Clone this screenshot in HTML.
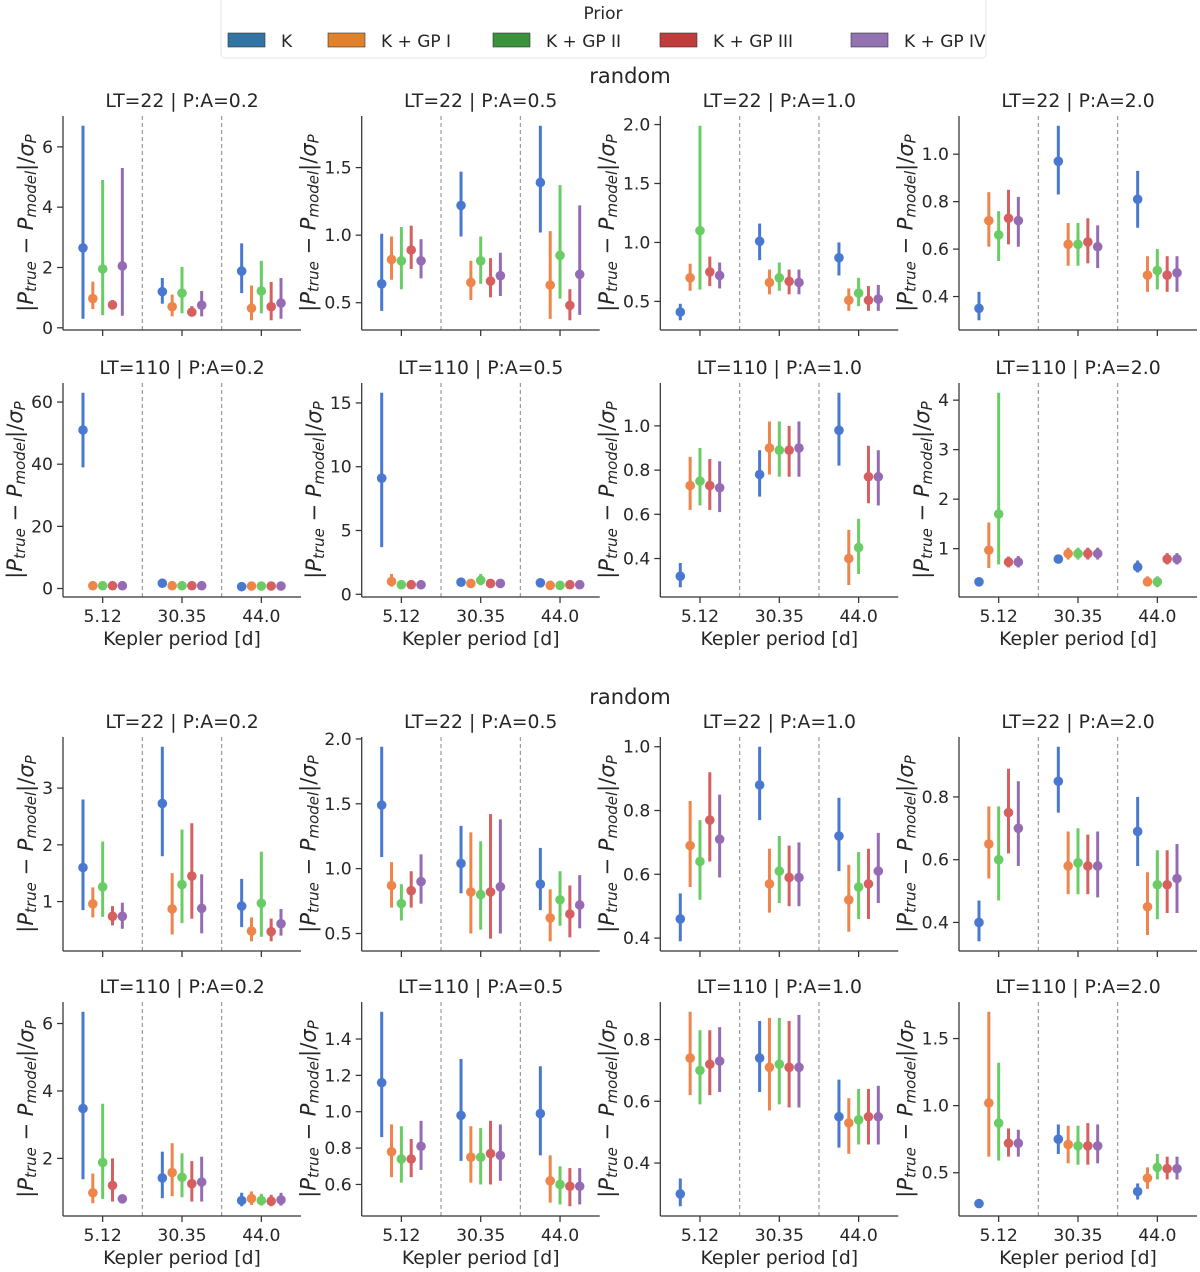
<!DOCTYPE html>
<html><head><meta charset="utf-8">
<style>
html,body{margin:0;padding:0;background:#fff;}
svg{display:block;font-family:"DejaVu Sans","Liberation Sans",sans-serif;}
</style></head>
<body>
<svg id="fig" width="1200" height="1272" viewBox="0 0 1200 1272" xmlns="http://www.w3.org/2000/svg"></svg>
<script>
// ---- data ----
const categories = ["5.12", "30.35", "44.0"];
const seriesNames = ["K", "K + GP I", "K + GP II", "K + GP III", "K + GP IV"];
const panelTitles = ["LT=22 | P:A=0.2","LT=22 | P:A=0.5","LT=22 | P:A=1.0","LT=22 | P:A=2.0",
  "LT=110 | P:A=0.2","LT=110 | P:A=0.5","LT=110 | P:A=1.0","LT=110 | P:A=2.0",
  "LT=22 | P:A=0.2","LT=22 | P:A=0.5","LT=22 | P:A=1.0","LT=22 | P:A=2.0",
  "LT=110 | P:A=0.2","LT=110 | P:A=0.5","LT=110 | P:A=1.0","LT=110 | P:A=2.0"];
const panelTicks = [[0,2,4,6],[0.5,1.0,1.5],[0.5,1.0,1.5,2.0],[0.4,0.6,0.8,1.0],
  [0,20,40,60],[0,5,10,15],[0.4,0.6,0.8,1.0],[1,2,3,4],
  [1,2,3],[0.5,1.0,1.5,2.0],[0.4,0.6,0.8,1.0],[0.4,0.6,0.8],
  [2,4,6],[0.6,0.8,1.0,1.2,1.4],[0.4,0.6,0.8],[0.5,1.0,1.5]];
const tickLabels = [["0","2","4","6"],["0.5","1.0","1.5"],["0.5","1.0","1.5","2.0"],["0.4","0.6","0.8","1.0"],
  ["0","20","40","60"],["0","5","10","15"],["0.4","0.6","0.8","1.0"],["1","2","3","4"],
  ["1","2","3"],["0.5","1.0","1.5","2.0"],["0.4","0.6","0.8","1.0"],["0.4","0.6","0.8"],
  ["2","4","6"],["0.6","0.8","1.0","1.2","1.4"],["0.4","0.6","0.8"],["0.5","1.0","1.5"]];
// per panel: [series][category]
const means = [
 [[2.65,1.2,1.88],[0.97,0.7,0.65],[1.95,1.15,1.22],[0.76,0.52,0.7],[2.05,0.75,0.82]],
 [[0.64,1.22,1.39],[0.82,0.65,0.63],[0.81,0.81,0.85],[0.89,0.66,0.48],[0.81,0.7,0.71]],
 [[0.41,1.01,0.87],[0.7,0.66,0.51],[1.1,0.7,0.57],[0.75,0.67,0.51],[0.72,0.66,0.52]],
 [[0.35,0.97,0.81],[0.72,0.62,0.49],[0.66,0.62,0.51],[0.73,0.63,0.49],[0.72,0.61,0.5]],
 [[51,1.7,0.6],[0.9,0.9,0.8],[0.9,0.9,0.8],[0.9,0.9,0.8],[0.9,0.9,0.8]],
 [[9.1,0.95,0.9],[1.0,0.85,0.7],[0.75,1.1,0.7],[0.75,0.85,0.75],[0.75,0.85,0.75]],
 [[0.32,0.78,0.98],[0.73,0.9,0.4],[0.75,0.89,0.45],[0.73,0.89,0.77],[0.72,0.9,0.77]],
 [[0.33,0.79,0.63],[0.97,0.9,0.33],[1.7,0.9,0.33],[0.73,0.9,0.79],[0.73,0.9,0.79]],
 [[1.6,2.73,0.92],[0.96,0.87,0.48],[1.26,1.3,0.97],[0.74,1.45,0.47],[0.74,0.88,0.61]],
 [[1.49,1.04,0.88],[0.87,0.82,0.62],[0.73,0.8,0.76],[0.83,0.82,0.65],[0.9,0.86,0.72]],
 [[0.46,0.88,0.72],[0.69,0.57,0.52],[0.64,0.61,0.56],[0.77,0.59,0.57],[0.71,0.59,0.61]],
 [[0.4,0.85,0.69],[0.65,0.58,0.45],[0.6,0.59,0.52],[0.75,0.58,0.52],[0.7,0.58,0.54]],
 [[3.48,1.42,0.75],[0.98,1.58,0.81],[1.88,1.44,0.75],[1.2,1.25,0.73],[0.8,1.3,0.77]],
 [[1.16,0.98,0.99],[0.78,0.75,0.62],[0.74,0.75,0.6],[0.74,0.77,0.59],[0.81,0.76,0.59]],
 [[0.3,0.74,0.55],[0.74,0.71,0.53],[0.7,0.72,0.54],[0.72,0.71,0.55],[0.73,0.71,0.55]],
 [[0.27,0.75,0.36],[1.02,0.71,0.46],[0.87,0.7,0.54],[0.72,0.7,0.53],[0.72,0.7,0.53]]
];
const lows = [
 [[0.3,0.8,1.15],[0.62,0.38,0.25],[0.42,0.48,0.48],[0.63,0.38,0.25],[0.4,0.38,0.3]],
 [[0.44,0.99,1.02],[0.67,0.52,0.38],[0.6,0.64,0.53],[0.75,0.54,0.37],[0.68,0.55,0.41]],
 [[0.34,0.85,0.72],[0.59,0.56,0.42],[0.6,0.59,0.46],[0.63,0.56,0.42],[0.61,0.56,0.42]],
 [[0.3,0.83,0.69],[0.61,0.53,0.42],[0.55,0.53,0.43],[0.62,0.54,0.42],[0.61,0.52,0.42]],
 [[39,1.4,0.4],[0.6,0.6,0.5],[0.6,0.6,0.5],[0.6,0.6,0.5],[0.6,0.6,0.5]],
 [[3.7,0.8,0.75],[0.6,0.7,0.55],[0.6,0.7,0.55],[0.6,0.7,0.6],[0.6,0.7,0.6]],
 [[0.27,0.68,0.82],[0.62,0.78,0.28],[0.64,0.77,0.33],[0.62,0.77,0.65],[0.61,0.77,0.64]],
 [[0.28,0.7,0.52],[0.61,0.78,0.25],[0.68,0.78,0.22],[0.62,0.78,0.68],[0.62,0.78,0.68]],
 [[0.85,1.8,0.55],[0.72,0.42,0.3],[0.73,0.62,0.38],[0.58,0.7,0.3],[0.52,0.44,0.4]],
 [[1.09,0.81,0.68],[0.7,0.5,0.44],[0.6,0.53,0.56],[0.7,0.46,0.47],[0.73,0.5,0.54]],
 [[0.39,0.77,0.61],[0.56,0.48,0.42],[0.52,0.51,0.46],[0.64,0.5,0.46],[0.59,0.5,0.51]],
 [[0.34,0.75,0.58],[0.54,0.49,0.36],[0.47,0.49,0.41],[0.62,0.49,0.43],[0.58,0.48,0.43]],
 [[1.38,0.82,0.58],[0.67,0.88,0.62],[0.8,0.85,0.6],[0.72,0.72,0.58],[0.7,0.72,0.6]],
 [[0.86,0.73,0.76],[0.64,0.61,0.5],[0.61,0.6,0.49],[0.64,0.6,0.48],[0.68,0.62,0.49]],
 [[0.26,0.63,0.45],[0.62,0.57,0.43],[0.59,0.59,0.46],[0.62,0.58,0.46],[0.63,0.58,0.46]],
 [[0.25,0.64,0.3],[0.62,0.57,0.38],[0.59,0.56,0.45],[0.62,0.56,0.45],[0.62,0.57,0.45]]
];
const highs = [
 [[6.7,1.65,2.8],[1.53,1.1,1.4],[4.9,2.02,2.22],[0.92,0.72,1.52],[5.3,1.22,1.65]],
 [[1.01,1.47,1.81],[0.99,0.81,1.03],[1.06,0.99,1.37],[1.07,0.83,0.6],[0.97,0.87,1.22]],
 [[0.48,1.16,1.0],[0.82,0.77,0.61],[1.99,0.83,0.7],[0.88,0.77,0.63],[0.83,0.77,0.64]],
 [[0.42,1.12,0.93],[0.84,0.71,0.57],[0.76,0.71,0.6],[0.85,0.73,0.57],[0.82,0.7,0.57]],
 [[63,2.0,0.8],[1.2,1.2,1.1],[1.2,1.2,1.1],[1.2,1.2,1.1],[1.2,1.2,1.1]],
 [[15.8,1.1,1.05],[1.6,1.0,0.85],[0.9,1.6,0.85],[0.9,1.0,0.9],[0.9,1.0,0.9]],
 [[0.38,0.89,1.15],[0.86,1.02,0.53],[0.9,1.02,0.58],[0.85,1.0,0.91],[0.84,1.02,0.89]],
 [[0.38,0.88,0.76],[1.53,1.02,0.44],[4.15,1.02,0.44],[0.84,1.02,0.91],[0.85,1.02,0.91]],
 [[2.8,3.73,1.4],[1.25,1.5,0.72],[2.06,2.27,1.88],[0.92,2.38,0.7],[0.98,1.48,0.87]],
 [[1.94,1.33,1.16],[1.05,1.28,0.84],[0.88,1.21,0.98],[0.98,1.42,0.87],[1.11,1.38,0.95]],
 [[0.54,1.0,0.84],[0.83,0.68,0.63],[0.77,0.72,0.67],[0.92,0.69,0.68],[0.85,0.7,0.73]],
 [[0.47,0.96,0.8],[0.77,0.69,0.56],[0.77,0.7,0.63],[0.89,0.68,0.63],[0.85,0.69,0.65]],
 [[6.35,2.2,0.98],[1.55,2.45,1.02],[3.62,2.15,0.95],[2.0,1.92,0.92],[0.92,2.05,0.98]],
 [[1.55,1.29,1.25],[0.93,0.92,0.76],[0.92,0.91,0.7],[0.85,0.95,0.69],[0.95,0.93,0.69]],
 [[0.35,0.86,0.67],[0.89,0.87,0.61],[0.83,0.87,0.64],[0.83,0.86,0.64],[0.84,0.88,0.65]],
 [[0.3,0.86,0.42],[1.7,0.85,0.54],[1.32,0.85,0.64],[0.83,0.87,0.62],[0.82,0.86,0.62]]
];
// ---- styling / layout ----
const pointColors = ["#4878d0","#ee854a","#6acc64","#d65f5f","#956cb4"];
const legendColors = ["#3274a1","#e1812c","#3a923a","#c03d3e","#9372b2"];
const axLefts = [63, 361.7, 660.3, 959];
const axTops = [116, 383, 737, 1002];
const AXW = 238, AXH = 214;
const NS = "http://www.w3.org/2000/svg";
const svg = document.getElementById('fig');
function mk(tag, attrs, parent, text){
  const e = document.createElementNS(NS, tag);
  for (const k in attrs) e.setAttribute(k, attrs[k]);
  if (text !== undefined) e.textContent = text;
  (parent || svg).appendChild(e);
  return e;
}
const TXT = "#262626";

// legend
const lg = mk('g', {});


mk('rect', {x:221, y:-4, width:765, height:62, rx:4, fill:'#fff', stroke:'#e6e6e6'}, lg);
const lt = mk('text', {x:603, y:19, 'text-anchor':'middle', 'font-size':17, fill:TXT}, lg, 'Prior');


const patchX = [228, 328, 493, 660, 851];
seriesNames.forEach((n, i) => {
  const g = mk('g', {}, lg);
  
  
  mk('rect', {x:patchX[i], y:33, width:37, height:14, fill:legendColors[i], stroke:'#333', 'stroke-width':0.6}, g);
  mk('text', {x:patchX[i] + 53, y:47, 'font-size':17, fill:TXT}, g, n);
});

// section titles
[[83, 'random-title-top'], [704, 'random-title-bottom']].forEach(([y, nm]) => {
  const t = mk('text', {x:630, y:y, 'text-anchor':'middle', 'font-size':21, fill:TXT}, svg, 'random');
  
  
});

function textW(s){ let w = 0; for (const c of s) w += (c === '.' ? 0.318 : 0.636) * 17.2; return w; }

for (let p = 0; p < 16; p++) {
  const row = Math.floor(p / 4), col = p % 4;
  const L = axLefts[col], T = axTops[row], B = T + AXH;
  const g = mk('g', {});
  
  
  let mn = Infinity, mx = -Infinity;
  lows[p].forEach(r => r.forEach(v => mn = Math.min(mn, v)));
  highs[p].forEach(r => r.forEach(v => mx = Math.max(mx, v)));
  const pad = (mx - mn) * 0.05; const y0 = mn - pad, y1 = mx + pad;
  const yS = v => B - (v - y0) / (y1 - y0) * AXH;
  const cw = AXW / 3;
  const xC = c => L + cw * (c + 0.5);
  const xS = (c, s) => xC(c) + (s - 2) * cw * 0.124;
  const tt = mk('text', {x:L + AXW / 2, y:T - 9, 'text-anchor':'middle', 'font-size':18.8, fill:TXT}, g, panelTitles[p]);
  
  
  [1, 2].forEach(k => {
    const sl = mk('line', {x1:L + cw * k, x2:L + cw * k, y1:T, y2:B, stroke:'#9a9a9a', 'stroke-width':1.2, 'stroke-dasharray':'4,3'}, g);
    
    
  });
  let maxW = 0;
  panelTicks[p].forEach((v, i) => {
    const y = yS(v);
    mk('line', {x1:L - 6, x2:L, y1:y, y2:y, stroke:'#333', 'stroke-width':1.25}, g);
    const tl = mk('text', {x:L - 10, y:y + 6, 'text-anchor':'end', 'font-size':17.2, fill:TXT}, g, tickLabels[p][i]);
    
    
    maxW = Math.max(maxW, textW(tickLabels[p][i]));
  });
  categories.forEach((c, i) => {
    mk('line', {x1:xC(i), x2:xC(i), y1:B, y2:B + 6, stroke:'#333', 'stroke-width':1.25}, g);
    if (row === 1 || row === 3) {
      const xl = mk('text', {x:xC(i), y:B + 25, 'text-anchor':'middle', 'font-size':17.2, fill:TXT}, g, c);
      
      
    }
  });
  if (row === 1 || row === 3) {
    const xt = mk('text', {x:L + AXW / 2, y:B + 48, 'text-anchor':'middle', 'font-size':18.8, fill:TXT}, g, 'Kepler period [d]');
    
    
  }
  const lx = L - 10 - maxW - 16, ly = T + AXH / 2;
  const yl = mk('text', {x:lx, y:ly, 'text-anchor':'middle', 'font-size':21, fill:TXT, transform:`rotate(-90 ${lx} ${ly})`, 'dominant-baseline':'central'}, g);
  
  
  const parts = [['|', 0, 0], ['P', 1, 0], ['true', 1, 1], [' − ', 0, 0], ['P', 1, 0], ['model', 1, 1], ['|/', 0, 0], ['σ', 1, 0], ['P', 1, 1]];
  let prevSub = false;
  parts.forEach(([s, it, sub]) => {
    const a = {};
    if (it) a['font-style'] = 'italic';
    if (sub) { a['font-size'] = 15; a['dy'] = prevSub ? 0 : 5; }
    else if (prevSub) a['dy'] = -5;
    mk('tspan', a, yl, s);
    prevSub = !!sub;
  });
  mk('line', {x1:L, x2:L, y1:T, y2:B, stroke:'#333', 'stroke-width':1.25}, g);
  mk('line', {x1:L, x2:L + AXW, y1:B, y2:B, stroke:'#333', 'stroke-width':1.25}, g);
  for (let s = 0; s < 5; s++) {
    const sg = mk('g', {}, g);
    
    
    for (let c = 0; c < 3; c++) {
      const x = xS(c, s);
      const el = mk('line', {x1:x, x2:x, y1:yS(lows[p][s][c]), y2:yS(highs[p][s][c]), stroke:pointColors[s], 'stroke-width':3}, sg);
      
      
      const pt = mk('circle', {cx:x, cy:yS(means[p][s][c]), r:4.8, fill:pointColors[s]}, sg);
      
      
    }
  }
}
</script>
</body></html>
